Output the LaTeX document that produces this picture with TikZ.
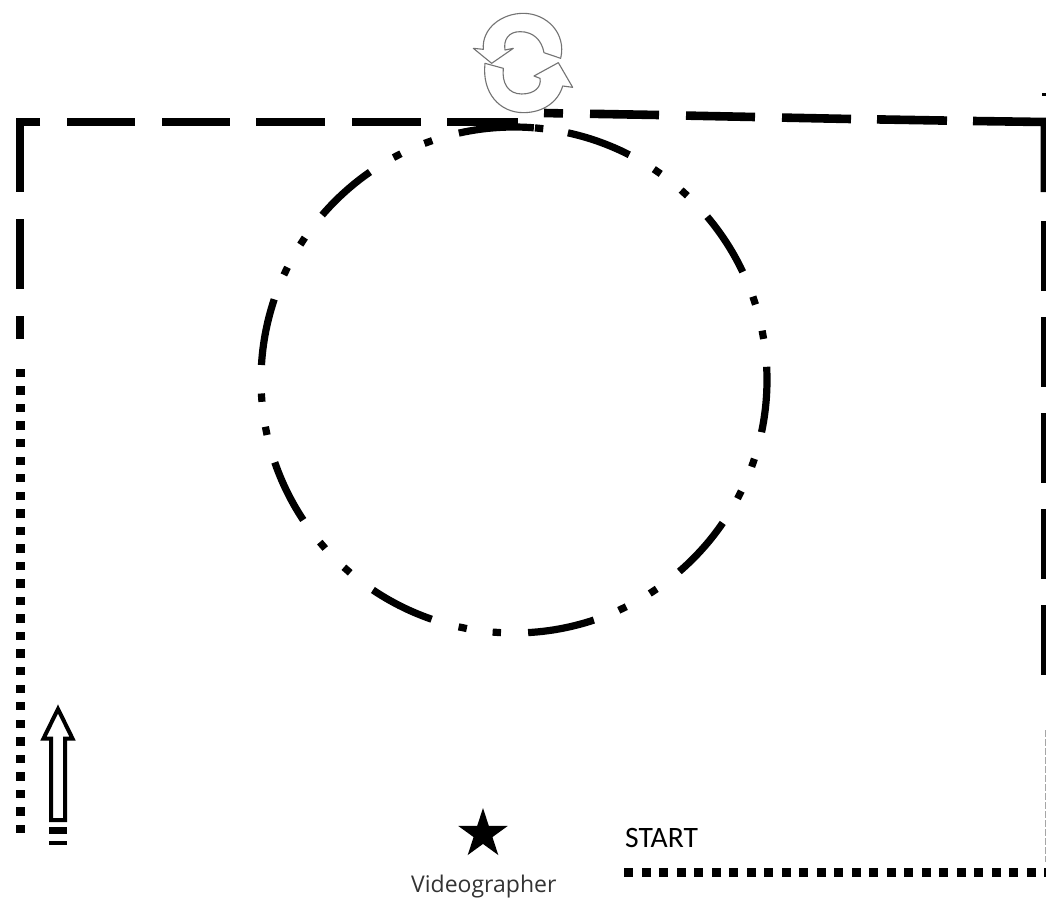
\documentclass[tikz,border=0pt]{standalone}
\usepackage{fontspec}
\setmainfont{Carlito}
\newfontfamily\vidfont{Open Sans}
\usetikzlibrary{shapes.geometric}
\tikzset{
  heavy/.style={line width=8.6pt,black,line cap=butt},
  ring/.style={line width=7.2pt,black,line cap=butt},
  spin/.style={draw=black!55,line width=1.1pt,fill=white,line join=round},
  pip/.style={fill=black,draw=none,minimum width=9pt,minimum height=8.4pt,inner sep=0pt,outer sep=0pt,shape=rectangle},
}
\begin{document}
\begin{tikzpicture}[x=1pt,y=-1pt]
\useasboundingbox[fill=white] (0,0) rectangle (1046,897);
% rotation symbol
\begin{scope}[shift={(440,0)},x=0.3333pt,y=-0.3333pt]
  \draw[spin] (398,262) -- (368,258) .. controls (355,305) and (310,338) .. (250,338)
     .. controls (180,338) and (125,280) .. (135,190) -- (190,205)
     .. controls (185,250) and (205,282) .. (245,282)
     .. controls (285,282) and (305,260) .. (300,235) -- (282,228) -- (355,188) -- cycle;
  \draw[spin] (100,145) -- (130,148) .. controls (125,85) and (185,40) .. (250,40)
     .. controls (320,40) and (380,100) .. (362,175) -- (312,158)
     .. controls (305,120) and (280,95) .. (240,95)
     .. controls (205,95) and (190,120) .. (195,150) -- (220,145) -- (155,190) -- cycle;
\end{scope}
% outer dashed boundary
\draw[heavy] (40,122) -- (20,122) -- (20,192);
\foreach \a/\b in {67/135,162/230,256/325,352/421,447/518}
  \draw[heavy] (\a,122) -- (\b,122);
\draw[heavy] (544,113) -- (563,113.4);
\draw[heavy] (590,113.8) -- (659,115);
\draw[heavy] (686,115.6) -- (755,117);
\draw[heavy] (782,117.6) -- (851,119);
\draw[heavy] (877,119.4) -- (947,120.6);
\draw[heavy] (973,121) -- (1045,122) -- (1045,192);
\foreach \a/\b in {219/289,316/339}
  \draw[heavy] (20,\a) -- (20,\b);
\foreach \a/\b in {221/291,317/387,413/483,509/579,605/675}
  \draw[heavy] (1045,\a) -- (1045,\b);
\draw[line width=3pt] (1042,94) -- (1046,94);
% thin pale edge lower right
\draw[black!35,line width=1.6pt,dash pattern=on 7pt off 2pt] (1045.3,730) -- (1045.3,862);
% dotted path
\foreach \k in {0,...,26}
  \node[pip] (L\k) at (20,{373+17.54*\k}) {};
\foreach \k in {0,...,23}
  \node[pip] (B\k) at ({628.5+17.5*\k},872.5) {};
\fill (1043.5,868.3) rectangle (1046,876.7);
% dash-dot circle
\foreach \a/\b in {176.6/161.4,139.3/124.7,102.6/85.5,77.7/62.9,40.2/25.3,3/-11.9,-34.4/-49.2,-71.6/-86.8,-109/-123.9,-146.4/-161}
  \draw[ring] plot[domain=\a:\b,samples=14] ({514+253*cos(\x)},{380-253*sin(\x)});
\foreach \c in {154.5,146.7,117.5,109.8,84.3,55.5,47.7,18.3,10.3,-19.1,-27,-56.6,-64.6,-93.9,-101.7,-131.3,-139.2,-168.4,-176}
  \draw[ring] plot[domain={\c-0.95}:{\c+0.95},samples=2] ({514+253*cos(\x)},{380-253*sin(\x)});
% direction arrow
\draw[line width=4pt,black,line join=miter,fill=white]
  (51,820) -- (51,738.5) -- (43.5,738.5) -- (58,709) -- (72.5,738.5) -- (65,738.5) -- (65,820) -- cycle;
\fill (49,827) rectangle (67,834);
\fill (49,841) rectangle (67,845);
% videographer and labels
\node[star,star points=5,star point ratio=2.618,fill=black,draw=none,inner sep=0pt,minimum size=52pt] (cam) at (483,834) {};
\node[anchor=base west,inner sep=0pt,text=black!80] (vid) at (411,892) {\vidfont\fontsize{23}{26}\selectfont Videographer};
\node[anchor=base west,inner sep=0pt] (start) at (625,847) {\fontsize{29.6}{32}\selectfont START};
\end{tikzpicture}
\end{document}
